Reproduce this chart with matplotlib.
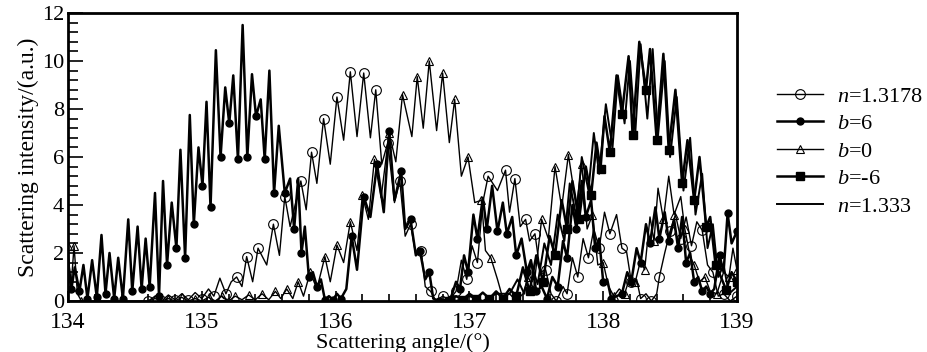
import matplotlib
matplotlib.use("Agg")
import matplotlib.pyplot as plt
from matplotlib.ticker import MultipleLocator

plt.rcParams['font.family'] = ['Liberation Serif', 'DejaVu Serif']
plt.rcParams['mathtext.fontset'] = 'custom'
plt.rcParams['mathtext.it'] = 'Liberation Serif:italic'
plt.rcParams['mathtext.rm'] = 'Liberation Serif'

# (angle, intensity) pairs, peaks and troughs
b6 = [(134.00, 1.7), (134.025, 0.5), (134.05, 1.4), (134.085, 0.4), (134.115, 1.5), (134.145, 0.1),
      (134.18, 1.7), (134.215, 0.15), (134.25, 2.75), (134.28, 0.3), (134.31, 2.0), (134.345, 0.1),
      (134.375, 1.8), (134.41, 0.1), (134.45, 3.4), (134.48, 0.4), (134.52, 3.1), (134.55, 0.5),
      (134.58, 2.6), (134.61, 0.6), (134.65, 4.5), (134.68, 0.2), (134.71, 5.0), (134.74, 1.5),
      (134.775, 4.1), (134.81, 2.2), (134.84, 6.3), (134.875, 1.8), (134.91, 7.75), (134.94, 3.2),
      (134.975, 6.4), (135.005, 4.8), (135.035, 8.3), (135.065, 3.9), (135.105, 10.45), (135.14, 6.0),
      (135.175, 8.9), (135.205, 7.4), (135.235, 9.4), (135.27, 5.9), (135.305, 11.5), (135.34, 6.0),
      (135.375, 9.45), (135.405, 7.7), (135.44, 8.4), (135.47, 5.9), (135.505, 9.6), (135.54, 4.5),
      (135.575, 7.3), (135.62, 4.5), (135.66, 5.1), (135.69, 3.0), (135.72, 5.1), (135.745, 2.0),
      (135.77, 3.1), (135.80, 1.0), (135.83, 1.2), (135.86, 0.6), (135.89, 0.9), (135.92, 0.05),
      (135.95, 0.2), (135.98, 0.05), (136.01, 0.3), (136.04, 0.1), (136.08, 0.5), (136.12, 2.7),
      (136.16, 1.3), (136.21, 4.35), (136.26, 3.5), (136.31, 5.7), (136.36, 3.7), (136.40, 7.1),
      (136.44, 4.2), (136.49, 5.4), (136.52, 3.0), (136.56, 3.4), (136.60, 1.9), (136.63, 2.1),
      (136.67, 0.9), (136.70, 1.2), (136.73, 0.1), (136.77, 0.0), (136.82, 0.05), (136.86, 0.1),
      (136.90, 0.8), (136.93, 0.5), (136.96, 1.9), (136.99, 1.2), (137.03, 3.6), (137.06, 2.6),
      (137.10, 4.3), (137.13, 3.0), (137.17, 4.8), (137.21, 2.9), (137.25, 4.1), (137.28, 2.8),
      (137.32, 3.5), (137.35, 1.9), (137.39, 2.6), (137.43, 1.2), (137.46, 1.7), (137.50, 0.4),
      (137.54, 0.6), (137.58, 0.1), (137.62, 1.0), (137.66, 0.6), (137.70, 2.5), (137.73, 1.8),
      (137.77, 4.0), (137.80, 3.0), (137.84, 5.0), (137.87, 3.5), (137.91, 4.2), (137.94, 2.2),
      (137.97, 2.6), (138.00, 0.8), (138.03, 0.9), (138.06, 0.1), (138.10, 0.2), (138.14, 0.3),
      (138.18, 1.2), (138.21, 0.8), (138.25, 2.2), (138.28, 1.6), (138.32, 3.2), (138.35, 2.4),
      (138.39, 3.9), (138.42, 2.6), (138.46, 3.7), (138.49, 2.5), (138.53, 3.4), (138.56, 2.2),
      (138.59, 3.5), (138.62, 1.6), (138.65, 2.0), (138.68, 0.8), (138.71, 1.0), (138.74, 0.4),
      (138.77, 0.6), (138.80, 0.3), (138.83, 0.5), (138.87, 1.9), (138.90, 1.2), (138.93, 3.65),
      (138.96, 2.4), (139.00, 2.9)]

n13178 = [(134.60, 0.0), (134.65, 0.2), (134.70, 0.0), (134.75, 0.25), (134.80, 0.05), (134.85, 0.3),
          (134.90, 0.05), (134.95, 0.35), (135.00, 0.1), (135.05, 0.5), (135.09, 0.2), (135.135, 0.95),
          (135.18, 0.3), (135.22, 0.8), (135.26, 1.0), (135.30, 0.6), (135.335, 1.85), (135.38, 0.8),
          (135.42, 2.2), (135.485, 1.5), (135.535, 3.2), (135.58, 1.9), (135.62, 4.35), (135.66, 3.1),
          (135.74, 5.0), (135.78, 3.8), (135.82, 6.2), (135.86, 4.9), (135.91, 7.6), (135.96, 5.7),
          (136.01, 8.5), (136.06, 6.7), (136.11, 9.55), (136.16, 6.85), (136.21, 9.5), (136.26, 6.8),
          (136.30, 8.8), (136.345, 5.7), (136.39, 6.6), (136.44, 4.1), (136.48, 5.0), (136.52, 2.7),
          (136.56, 3.2), (136.60, 1.9), (136.64, 2.1), (136.67, 0.6), (136.71, 0.4), (136.75, 0.0),
          (136.80, 0.2), (136.85, 0.05), (136.90, 0.4), (136.94, 1.7), (136.98, 0.9), (137.02, 2.3),
          (137.06, 1.6), (137.10, 4.1), (137.14, 5.2), (137.21, 4.6), (137.27, 5.45), (137.30, 3.7),
          (137.34, 5.1), (137.38, 3.1), (137.42, 3.4), (137.45, 2.5), (137.49, 2.8), (137.53, 1.2),
          (137.57, 1.3), (137.61, 0.3), (137.65, 0.0), (137.70, 0.6), (137.73, 0.3), (137.77, 1.8),
          (137.81, 1.0), (137.85, 2.6), (137.89, 1.8), (137.93, 3.0), (137.97, 2.2), (138.01, 3.7),
          (138.05, 2.8), (138.10, 3.6), (138.14, 2.2), (138.175, 2.05), (138.21, 0.8), (138.25, 0.9),
          (138.28, 0.1), (138.32, 0.3), (138.36, 0.0), (138.40, 0.3), (138.42, 1.0), (138.46, 2.0),
          (138.50, 2.9), (138.54, 3.6), (138.58, 2.6), (138.62, 3.5), (138.66, 2.3), (138.70, 3.3),
          (138.74, 2.95), (138.78, 1.5), (138.82, 1.2), (138.86, 0.2), (138.90, 0.3), (138.95, 0.0),
          (139.00, 0.2)]

b0 = [(134.00, 2.3), (134.02, 0.4), (134.045, 2.3), (134.07, 0.3), (134.10, 0.0), (134.60, 0.0),
      (134.65, 0.1), (134.70, 0.0), (134.75, 0.1), (134.80, 0.0), (134.85, 0.15), (134.90, 0.0),
      (134.95, 0.1), (135.00, 0.0), (135.05, 0.15), (135.10, 0.0), (135.15, 0.2), (135.20, 0.0),
      (135.25, 0.2), (135.30, 0.05), (135.35, 0.25), (135.40, 0.05), (135.45, 0.3), (135.50, 0.05),
      (135.55, 0.4), (135.59, 0.1), (135.635, 0.5), (135.68, 0.1), (135.72, 0.8), (135.76, 0.2),
      (135.81, 1.2), (135.86, 0.5), (135.92, 1.85), (135.96, 0.8), (136.01, 2.33), (136.06, 1.6),
      (136.11, 3.3), (136.16, 2.1), (136.20, 4.4), (136.245, 3.4), (136.29, 5.9), (136.34, 4.3),
      (136.40, 7.0), (136.45, 5.8), (136.50, 8.6), (136.57, 6.85), (136.61, 9.35), (136.655, 7.2),
      (136.70, 10.0), (136.755, 7.1), (136.80, 9.5), (136.85, 6.6), (136.89, 8.4), (136.94, 5.2),
      (136.99, 6.0), (137.04, 4.1), (137.09, 4.2), (137.12, 2.1), (137.16, 1.8), (137.21, 0.9),
      (137.25, 0.1), (137.30, 0.3), (137.35, 0.0), (137.40, 0.3), (137.44, 1.0), (137.48, 0.5),
      (137.54, 3.4), (137.59, 2.6), (137.64, 5.6), (137.69, 3.9), (137.74, 6.1), (137.80, 3.9),
      (137.84, 5.7), (137.88, 3.0), (137.92, 3.6), (137.96, 1.5), (138.00, 1.6), (138.04, 0.6),
      (138.08, 0.2), (138.12, 0.5), (138.16, 0.3), (138.20, 1.0), (138.24, 0.8), (138.28, 1.7),
      (138.31, 1.3), (138.35, 3.5), (138.38, 2.5), (138.41, 4.7), (138.45, 3.4), (138.49, 5.2),
      (138.53, 3.6), (138.58, 4.35), (138.61, 3.0), (138.65, 1.85), (138.68, 1.5), (138.72, 0.8),
      (138.76, 1.0), (138.80, 0.4), (138.85, 0.3), (138.90, 1.2), (138.94, 1.0), (138.97, 2.2),
      (139.00, 1.3)]

bm6 = [(136.85, 0.0), (136.90, 0.2), (136.95, 0.05), (137.00, 0.3), (137.05, 0.1), (137.10, 0.35),
       (137.15, 0.1), (137.20, 0.4), (137.25, 0.1), (137.30, 0.5), (137.35, 0.2), (137.40, 1.4),
       (137.45, 0.4), (137.50, 1.9), (137.55, 0.8), (137.60, 2.7), (137.64, 1.9), (137.69, 4.2),
       (137.73, 3.0), (137.77, 5.0), (137.82, 3.4), (137.87, 5.6), (137.91, 4.4), (137.95, 6.6),
       (137.98, 5.5), (138.01, 7.7), (138.05, 6.2), (138.10, 9.4), (138.14, 7.8), (138.19, 10.2),
       (138.22, 6.9), (138.27, 10.8), (138.32, 8.8), (138.35, 10.5), (138.40, 6.7), (138.45, 10.3),
       (138.49, 6.3), (138.54, 8.8), (138.59, 4.9), (138.63, 6.7), (138.68, 4.2), (138.72, 6.0),
       (138.77, 3.1), (138.80, 3.5), (138.84, 1.5), (138.88, 1.0), (138.92, 0.45), (138.96, 1.2),
       (139.00, 0.8)]

n1333 = [(136.90, 0.0), (137.00, 0.2), (137.10, 0.0), (137.20, 0.3), (137.30, 0.3), (137.36, 0.9),
         (137.41, 0.3), (137.46, 1.6), (137.51, 0.7), (137.56, 2.4), (137.61, 1.5), (137.66, 3.6),
         (137.71, 2.5), (137.75, 4.9), (137.80, 3.5), (137.84, 6.0), (137.89, 4.6), (137.93, 7.0),
         (137.97, 5.3), (138.02, 8.2), (138.07, 6.4), (138.11, 9.4), (138.16, 7.4), (138.20, 10.0),
         (138.24, 7.0), (138.28, 10.7), (138.33, 7.6), (138.37, 10.5), (138.41, 6.9), (138.46, 10.0),
         (138.50, 6.0), (138.55, 8.5), (138.60, 4.6), (138.65, 6.8), (138.69, 3.6), (138.74, 5.3),
         (138.78, 2.2), (138.82, 3.2), (138.86, 1.0), (138.90, 1.5), (138.94, 0.3), (139.00, 0.6)]

fig = plt.figure(figsize=(9.27, 3.52), dpi=100)
ax = fig.add_axes([0.0734, 0.145, 0.7216, 0.818])


def draw(data, **kw):
    xs = [p[0] for p in data]
    ys = [p[1] for p in data]
    ax.plot(xs, ys, color='black', solid_joinstyle='round', **kw)


draw(n13178, lw=1.0, marker='o', ms=7, mfc='none', mew=0.8, markevery=2, label='$n$=1.3178')
draw(b6, lw=1.8, marker='o', ms=5, markevery=(1, 2), label='$b$=6')
draw(b0, lw=1.0, marker='^', ms=5.5, mfc='none', mew=0.8, markevery=2, label='$b$=0')
draw(bm6, lw=1.8, marker='s', ms=5.5, markevery=2, label='$b$=-6')
draw(n1333, lw=1.4, label='$n$=1.333')

ax.set_xlim(134, 139)
ax.set_ylim(0, 12)
ax.xaxis.set_major_locator(MultipleLocator(1))
ax.xaxis.set_minor_locator(MultipleLocator(0.2))
ax.yaxis.set_major_locator(MultipleLocator(2))
ax.yaxis.set_minor_locator(MultipleLocator(0.4))
ax.tick_params(which='both', direction='in', width=1.2)
ax.tick_params(axis='x', which='major', length=7, pad=8, labelsize=17)
ax.tick_params(axis='x', which='minor', length=5)
ax.tick_params(axis='y', which='major', length=11, pad=3, labelsize=16)
ax.tick_params(axis='y', which='minor', length=7)
for s in ax.spines.values():
    s.set_linewidth(2)

ax.set_xlabel('Scattering angle/(°)', fontsize=16, labelpad=0)
ax.set_ylabel('Scattering intensity/(a.u.)', fontsize=17, labelpad=2)

ax.legend(loc='upper left', bbox_to_anchor=(0.838, 0.755), bbox_transform=fig.transFigure,
          frameon=False, fontsize=16, handlelength=2.1, labelspacing=0.31,
          borderpad=0, borderaxespad=0, handletextpad=0.6)

fig.savefig('out.png', dpi=100)
